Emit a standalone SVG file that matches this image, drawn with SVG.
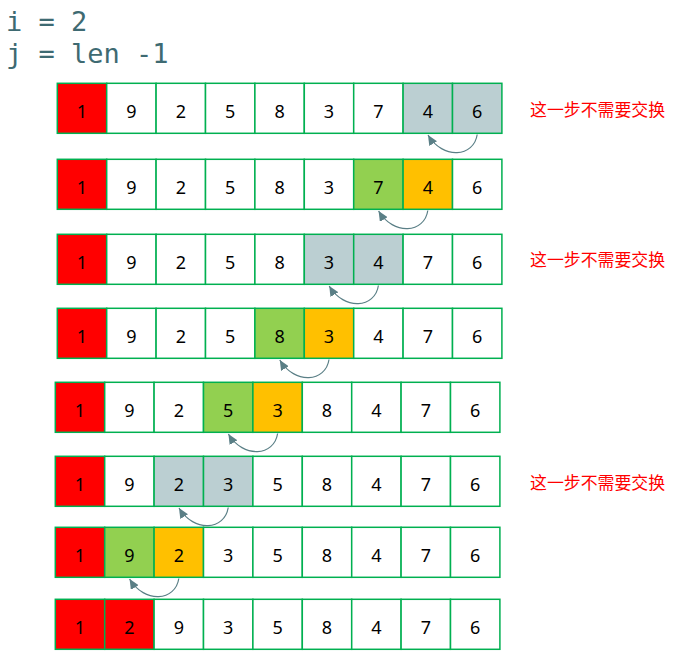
<svg xmlns="http://www.w3.org/2000/svg" width="673" height="662" viewBox="0 0 673 662">
<style>
.c{stroke:#00B050;stroke-width:1.5}
.w{fill:#FFFFFF}.r{fill:#FF0000}.g{fill:#92D050}.o{fill:#FFC000}.b{fill:#BBCFD2}
.t{font-family:"Noto Sans","Liberation Sans",sans-serif;font-size:18px;fill:#000;text-anchor:middle}
.lab{font-family:"Noto Sans CJK SC",sans-serif;font-size:16.9px;fill:#FF0000}
.code{font-family:"DejaVu Sans Mono",monospace;font-size:27px;fill:#3E6A72}
.arr{fill:none;stroke:#5A7F86;stroke-width:1.2}
</style>
<defs>
<marker id="ah" markerUnits="userSpaceOnUse" markerWidth="11" markerHeight="9" refX="10" refY="4.5" orient="auto">
<path d="M0,0 L10,4.5 L0,9 z" fill="#5A7F86"/>
</marker>
</defs>
<rect width="673" height="662" fill="#FFFFFF"/>
<g id="code">
<text class="code" x="6" y="30.5" xml:space="preserve">i = 2</text>
<text class="code" x="6" y="63" xml:space="preserve">j = len -1</text>
</g>
<g id="row1" transform="translate(57.3,83.3)">
<rect class="c r" x="0" y="0" width="49.4" height="50"/><rect class="c w" x="49.4" y="0" width="49.4" height="50"/><rect class="c w" x="98.8" y="0" width="49.4" height="50"/><rect class="c w" x="148.2" y="0" width="49.4" height="50"/><rect class="c w" x="197.6" y="0" width="49.4" height="50"/><rect class="c w" x="247" y="0" width="49.4" height="50"/><rect class="c w" x="296.4" y="0" width="49.4" height="50"/><rect class="c b" x="345.8" y="0" width="49.4" height="50"/><rect class="c b" x="395.2" y="0" width="49.4" height="50"/>
<text class="t" y="34.4"><tspan x="24.7">1</tspan><tspan x="74.1">9</tspan><tspan x="123.5">2</tspan><tspan x="172.9">5</tspan><tspan x="222.3">8</tspan><tspan x="271.7">3</tspan><tspan x="321.1">7</tspan><tspan x="370.5">4</tspan><tspan x="419.9">6</tspan></text>
</g>
<g id="row2" transform="translate(57.3,159.3)">
<rect class="c r" x="0" y="0" width="49.4" height="50"/><rect class="c w" x="49.4" y="0" width="49.4" height="50"/><rect class="c w" x="98.8" y="0" width="49.4" height="50"/><rect class="c w" x="148.2" y="0" width="49.4" height="50"/><rect class="c w" x="197.6" y="0" width="49.4" height="50"/><rect class="c w" x="247" y="0" width="49.4" height="50"/><rect class="c g" x="296.4" y="0" width="49.4" height="50"/><rect class="c o" x="345.8" y="0" width="49.4" height="50"/><rect class="c w" x="395.2" y="0" width="49.4" height="50"/>
<text class="t" y="34.4"><tspan x="24.7">1</tspan><tspan x="74.1">9</tspan><tspan x="123.5">2</tspan><tspan x="172.9">5</tspan><tspan x="222.3">8</tspan><tspan x="271.7">3</tspan><tspan x="321.1">7</tspan><tspan x="370.5">4</tspan><tspan x="419.9">6</tspan></text>
</g>
<g id="row3" transform="translate(57.3,234.3)">
<rect class="c r" x="0" y="0" width="49.4" height="50"/><rect class="c w" x="49.4" y="0" width="49.4" height="50"/><rect class="c w" x="98.8" y="0" width="49.4" height="50"/><rect class="c w" x="148.2" y="0" width="49.4" height="50"/><rect class="c w" x="197.6" y="0" width="49.4" height="50"/><rect class="c b" x="247" y="0" width="49.4" height="50"/><rect class="c b" x="296.4" y="0" width="49.4" height="50"/><rect class="c w" x="345.8" y="0" width="49.4" height="50"/><rect class="c w" x="395.2" y="0" width="49.4" height="50"/>
<text class="t" y="34.4"><tspan x="24.7">1</tspan><tspan x="74.1">9</tspan><tspan x="123.5">2</tspan><tspan x="172.9">5</tspan><tspan x="222.3">8</tspan><tspan x="271.7">3</tspan><tspan x="321.1">4</tspan><tspan x="370.5">7</tspan><tspan x="419.9">6</tspan></text>
</g>
<g id="row4" transform="translate(57.3,308.3)">
<rect class="c r" x="0" y="0" width="49.4" height="50"/><rect class="c w" x="49.4" y="0" width="49.4" height="50"/><rect class="c w" x="98.8" y="0" width="49.4" height="50"/><rect class="c w" x="148.2" y="0" width="49.4" height="50"/><rect class="c g" x="197.6" y="0" width="49.4" height="50"/><rect class="c o" x="247" y="0" width="49.4" height="50"/><rect class="c w" x="296.4" y="0" width="49.4" height="50"/><rect class="c w" x="345.8" y="0" width="49.4" height="50"/><rect class="c w" x="395.2" y="0" width="49.4" height="50"/>
<text class="t" y="34.4"><tspan x="24.7">1</tspan><tspan x="74.1">9</tspan><tspan x="123.5">2</tspan><tspan x="172.9">5</tspan><tspan x="222.3">8</tspan><tspan x="271.7">3</tspan><tspan x="321.1">4</tspan><tspan x="370.5">7</tspan><tspan x="419.9">6</tspan></text>
</g>
<g id="row5" transform="translate(55.3,382.3)">
<rect class="c r" x="0" y="0" width="49.4" height="50"/><rect class="c w" x="49.4" y="0" width="49.4" height="50"/><rect class="c w" x="98.8" y="0" width="49.4" height="50"/><rect class="c g" x="148.2" y="0" width="49.4" height="50"/><rect class="c o" x="197.6" y="0" width="49.4" height="50"/><rect class="c w" x="247" y="0" width="49.4" height="50"/><rect class="c w" x="296.4" y="0" width="49.4" height="50"/><rect class="c w" x="345.8" y="0" width="49.4" height="50"/><rect class="c w" x="395.2" y="0" width="49.4" height="50"/>
<text class="t" y="34.4"><tspan x="24.7">1</tspan><tspan x="74.1">9</tspan><tspan x="123.5">2</tspan><tspan x="172.9">5</tspan><tspan x="222.3">3</tspan><tspan x="271.7">8</tspan><tspan x="321.1">4</tspan><tspan x="370.5">7</tspan><tspan x="419.9">6</tspan></text>
</g>
<g id="row6" transform="translate(55.3,456.3)">
<rect class="c r" x="0" y="0" width="49.4" height="50"/><rect class="c w" x="49.4" y="0" width="49.4" height="50"/><rect class="c b" x="98.8" y="0" width="49.4" height="50"/><rect class="c b" x="148.2" y="0" width="49.4" height="50"/><rect class="c w" x="197.6" y="0" width="49.4" height="50"/><rect class="c w" x="247" y="0" width="49.4" height="50"/><rect class="c w" x="296.4" y="0" width="49.4" height="50"/><rect class="c w" x="345.8" y="0" width="49.4" height="50"/><rect class="c w" x="395.2" y="0" width="49.4" height="50"/>
<text class="t" y="34.4"><tspan x="24.7">1</tspan><tspan x="74.1">9</tspan><tspan x="123.5">2</tspan><tspan x="172.9">3</tspan><tspan x="222.3">5</tspan><tspan x="271.7">8</tspan><tspan x="321.1">4</tspan><tspan x="370.5">7</tspan><tspan x="419.9">6</tspan></text>
</g>
<g id="row7" transform="translate(55.3,527.3)">
<rect class="c r" x="0" y="0" width="49.4" height="50"/><rect class="c g" x="49.4" y="0" width="49.4" height="50"/><rect class="c o" x="98.8" y="0" width="49.4" height="50"/><rect class="c w" x="148.2" y="0" width="49.4" height="50"/><rect class="c w" x="197.6" y="0" width="49.4" height="50"/><rect class="c w" x="247" y="0" width="49.4" height="50"/><rect class="c w" x="296.4" y="0" width="49.4" height="50"/><rect class="c w" x="345.8" y="0" width="49.4" height="50"/><rect class="c w" x="395.2" y="0" width="49.4" height="50"/>
<text class="t" y="34.4"><tspan x="24.7">1</tspan><tspan x="74.1">9</tspan><tspan x="123.5">2</tspan><tspan x="172.9">3</tspan><tspan x="222.3">5</tspan><tspan x="271.7">8</tspan><tspan x="321.1">4</tspan><tspan x="370.5">7</tspan><tspan x="419.9">6</tspan></text>
</g>
<g id="row8" transform="translate(55.3,599.3)">
<rect class="c r" x="0" y="0" width="49.4" height="50"/><rect class="c r" x="49.4" y="0" width="49.4" height="50"/><rect class="c w" x="98.8" y="0" width="49.4" height="50"/><rect class="c w" x="148.2" y="0" width="49.4" height="50"/><rect class="c w" x="197.6" y="0" width="49.4" height="50"/><rect class="c w" x="247" y="0" width="49.4" height="50"/><rect class="c w" x="296.4" y="0" width="49.4" height="50"/><rect class="c w" x="345.8" y="0" width="49.4" height="50"/><rect class="c w" x="395.2" y="0" width="49.4" height="50"/>
<text class="t" y="34.4"><tspan x="24.7">1</tspan><tspan x="74.1">2</tspan><tspan x="123.5">9</tspan><tspan x="172.9">3</tspan><tspan x="222.3">5</tspan><tspan x="271.7">8</tspan><tspan x="321.1">4</tspan><tspan x="370.5">7</tspan><tspan x="419.9">6</tspan></text>
</g>
<g id="labels">
<text class="lab" x="530" y="116">这一步不需要交换</text>
<text class="lab" x="530" y="266">这一步不需要交换</text>
<text class="lab" x="530" y="489">这一步不需要交换</text>
</g>
<g id="connectors">
<path class="arr" marker-end="url(#ah)" d="M477.2,134.5 C474,157 443,160 428,135"/>
<path class="arr" marker-end="url(#ah)" d="M427.8,210.5 C424.6,233 393.6,236 378.6,211"/>
<path class="arr" marker-end="url(#ah)" d="M378.4,285.5 C375.2,308 344.2,311 329.2,286"/>
<path class="arr" marker-end="url(#ah)" d="M329,359.5 C325.8,382 294.8,385 279.8,360"/>
<path class="arr" marker-end="url(#ah)" d="M277.6,433.5 C274.4,456 243.4,459 228.4,434"/>
<path class="arr" marker-end="url(#ah)" d="M228.2,507.5 C225,530 194,533 179,508"/>
<path class="arr" marker-end="url(#ah)" d="M178.8,578.5 C175.6,601 144.6,604 129.6,579"/>
</g>
</svg>
